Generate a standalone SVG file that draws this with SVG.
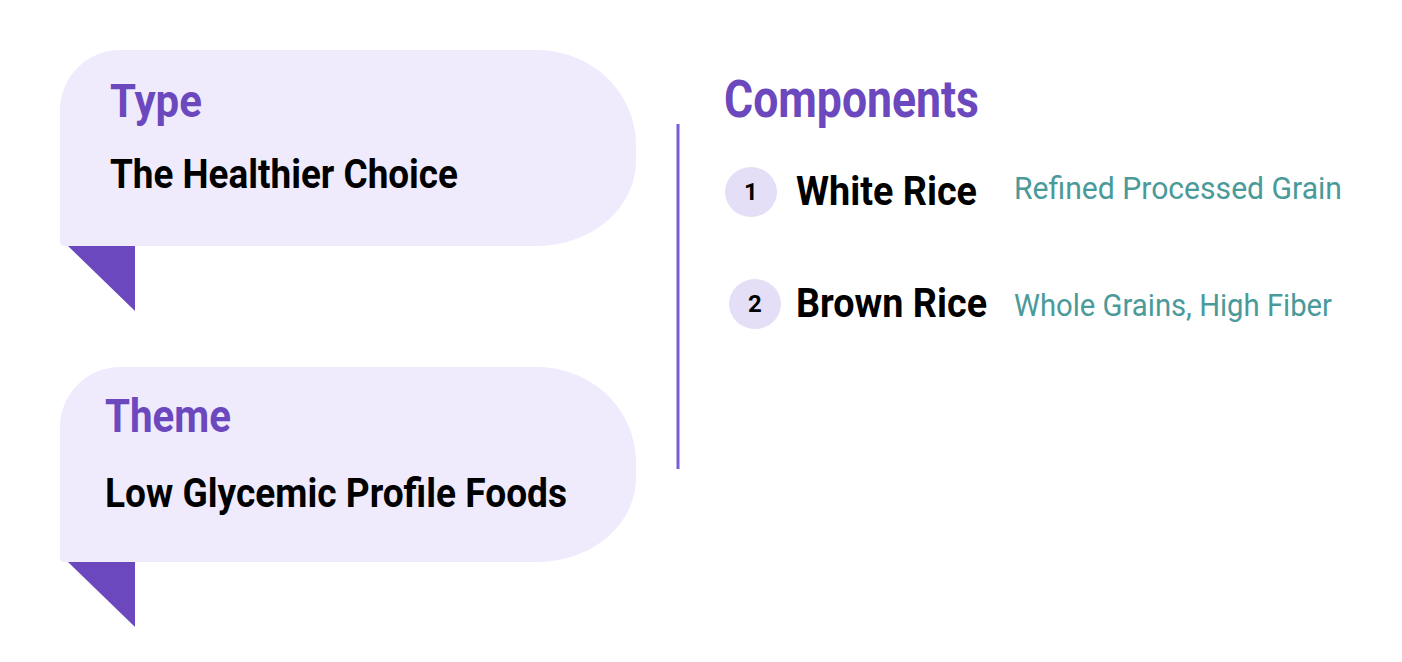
<svg xmlns="http://www.w3.org/2000/svg" width="1402" height="662" viewBox="0 0 1402 662">
<style>
.box{fill:#EFEBFC}
.tail{fill:#6B48BD}
.hd{font-family:"Roboto","Liberation Sans",sans-serif;font-weight:700;fill:#6B48BD}
.bd{font-family:"Roboto","Liberation Sans",sans-serif;font-weight:700;fill:#000}
.ds{font-family:"Roboto","Liberation Sans",sans-serif;font-weight:400;fill:#4A9A9A}
.num{font-family:"Roboto","Liberation Sans",sans-serif;font-weight:700;fill:#000;font-size:24px;text-anchor:middle}
.badge{fill:#E4DFF7}
</style>
<rect width="1402" height="662" fill="#fff"/>
<g id="type-node">
<path class="box" d="M120,50 H536 C592,50 636,92 636,146 V160 C636,208 592,246 536,246 H64 Q60,246 60,242 V110 C60,77 87,50 120,50 Z"/>
<polygon class="tail" points="68,246 135,246 135,311"/>
<text class="hd" x="110" y="117" font-size="46" textLength="92" lengthAdjust="spacingAndGlyphs">Type</text>
<text class="bd" x="110" y="188" font-size="41" textLength="348" lengthAdjust="spacingAndGlyphs">The Healthier Choice</text>
</g>
<g id="theme-node">
<path class="box" d="M120,367 H536 C592,367 636,409 636,463 V477 C636,525 592,562 536,562 H64 Q60,562 60,558 V427 C60,394 87,367 120,367 Z"/>
<polygon class="tail" points="68,562 135,562 135,627"/>
<text class="hd" x="105" y="432" font-size="46" textLength="126" lengthAdjust="spacingAndGlyphs">Theme</text>
<text class="bd" x="105" y="507" font-size="41" textLength="462" lengthAdjust="spacingAndGlyphs">Low Glycemic Profile Foods</text>
</g>
<g id="connectors">
<line x1="678" y1="124" x2="678" y2="469" stroke="#7B5CD6" stroke-width="3"/>
</g>
<g id="components-title">
<text class="hd" x="724" y="117" font-size="51" textLength="255" lengthAdjust="spacingAndGlyphs">Components</text>
</g>
<g id="item-1">
<ellipse class="badge" cx="751" cy="192" rx="26" ry="25"/>
<text class="num" x="751" y="200">1</text>
<text class="bd" x="796" y="205" font-size="41" textLength="181" lengthAdjust="spacingAndGlyphs">White Rice</text>
<text class="ds" x="1014" y="199" font-size="32" textLength="328" lengthAdjust="spacingAndGlyphs">Refined Processed Grain</text>
</g>
<g id="item-2">
<ellipse class="badge" cx="755" cy="304" rx="26" ry="25"/>
<text class="num" x="755" y="312">2</text>
<text class="bd" x="796" y="317" font-size="41" textLength="191" lengthAdjust="spacingAndGlyphs">Brown Rice</text>
<text class="ds" x="1014" y="316" font-size="32" textLength="318" lengthAdjust="spacingAndGlyphs">Whole Grains, High Fiber</text>
</g>
</svg>
